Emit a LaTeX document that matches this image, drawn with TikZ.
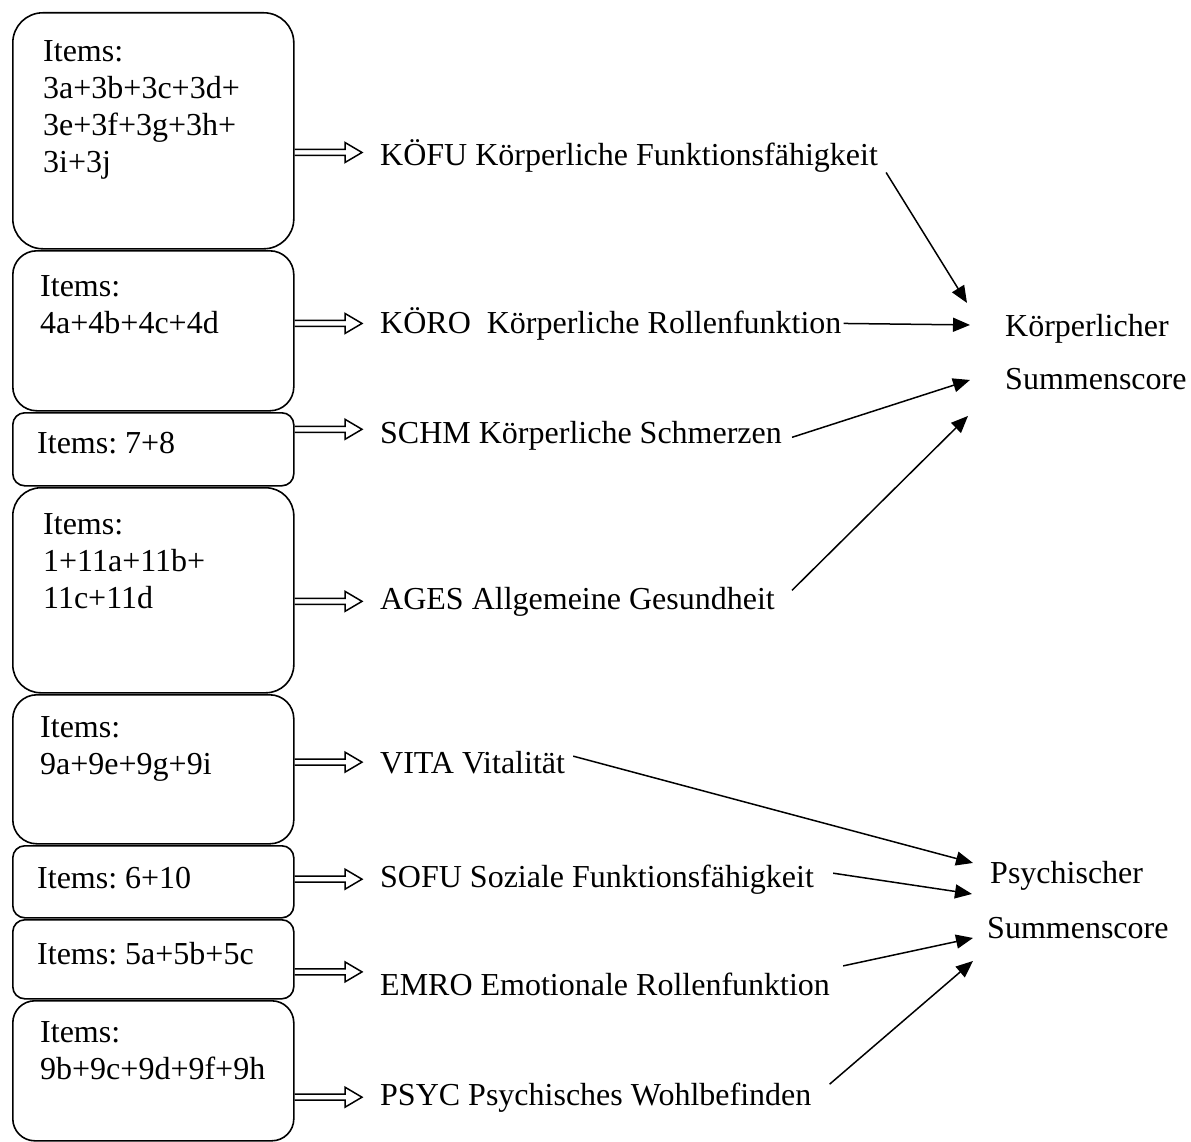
\documentclass[tikz,border=0pt]{standalone}
\usepackage{fontspec}
\setmainfont{Liberation Serif}
\usetikzlibrary{arrows.meta,calc}
\frenchspacing

\tikzset{
	itembox/.style={draw, line width=1.6pt, anchor=north west, minimum width=281pt, inner sep=0pt},
	itemtext/.style={anchor=north west, align=left, inner sep=0pt, font=\fontsize{32}{37}\selectfont},
	lbl/.style={anchor=base west, inner sep=0pt, font=\fontsize{32}{37}\selectfont},
	sumtext/.style={anchor=north west, align=left, inner sep=0pt, font=\fontsize{32}{37}\selectfont},
	sumarrow/.style={line width=1.5pt, -{Triangle[length=17pt,width=14pt]}},
	dbl/.style={line width=1.5pt, to path={let \p1=(\tikztostart), \p2=(\tikztotarget) in
		(\x1,\y1+3pt) -- (\x2-17pt,\y1+3pt) -- (\x2-17pt,\y1+10pt) -- (\x2,\y1)
		-- (\x2-17pt,\y1-10pt) -- (\x2-17pt,\y1-3pt) -- (\x1,\y1-3pt)}}
}

\begin{document}
\begin{tikzpicture}[x=1pt,y=-1pt]

	\useasboundingbox (0,0) rectangle (1191,1142);

	% item boxes
	\node[itembox, minimum height=236pt, rounded corners=30pt] (b1) at (12,12) {};
	\node[itembox, minimum height=160pt, rounded corners=24pt] (b2) at (12,250) {};
	\node[itembox, minimum height=73pt, rounded corners=12pt] (b3) at (12,412) {};
	\node[itembox, minimum height=205pt, rounded corners=28pt] (b4) at (12,487) {};
	\node[itembox, minimum height=149pt, rounded corners=24pt] (b5) at (12,694) {};
	\node[itembox, minimum height=72pt, rounded corners=12pt] (b6) at (12,845) {};
	\node[itembox, minimum height=79pt, rounded corners=12pt] (b7) at (12,919) {};
	\node[itembox, minimum height=140pt, rounded corners=22pt] (b8) at (12,1000) {};

	\node[itemtext] (t1) at (43,40) {Items:\\3a+3b+3c+3d+\\3e+3f+3g+3h+\\3i+3j};
	\node[itemtext] (t2) at (40,275) {Items:\\4a+4b+4c+4d};
	\node[itemtext] (t3) at (37,432) {Items: 7+8};
	\node[itemtext] (t4) at (43,513) {Items:\\1+11a+11b+\\11c+11d};
	\node[itemtext] (t5) at (40,716) {Items:\\9a+9e+9g+9i};
	\node[itemtext] (t6) at (37,867) {Items: 6+10};
	\node[itemtext] (t7) at (37,942) {Items: 5a+5b+5c};
	\node[itemtext] (t8) at (40,1021) {Items:\\9b+9c+9d+9f+9h};

	% scales
	\node[lbl] (k1) at (380,166) {KÖFU Körperliche Funktionsfähigkeit};
	\node[lbl] (k2) at (380,333) {KÖRO\ \ Körperliche Rollenfunktion};
	\node[lbl] (k3) at (380,443) {SCHM Körperliche Schmerzen};
	\node[lbl] (k4) at (380,609) {AGES Allgemeine Gesundheit};
	\node[lbl] (k5) at (380,773) {VITA Vitalität};
	\node[lbl] (k6) at (380,887) {SOFU Soziale Funktionsfähigkeit};
	\node[lbl] (k7) at (380,995) {EMRO Emotionale Rollenfunktion};
	\node[lbl] (k8) at (380,1105) {PSYC Psychisches Wohlbefinden};

	% sum scores
	\node[sumtext] (ks) at (1005,314) {Körperlicher\\[16pt]Summenscore};
	\node[sumtext] (ps) at (990,861) {Psychischer\\[18pt]\hspace*{-3pt}Summenscore};

	% items -> scales
	\draw[dbl] (b1.east |- k1.west) ++(0,-4) to ([xshift=-18pt,yshift=4pt]k1.west);
	\draw[dbl] (b2.east |- k2.west) to ([xshift=-18pt]k2.west);
	\draw[dbl] (b3.east |- k3.west) ++(0,-6) to ([xshift=-18pt,yshift=6pt]k3.west);
	\draw[dbl] (b4.east |- k4.west) to ([xshift=-18pt]k4.west);
	\draw[dbl] (b5.east |- k5.west) to ([xshift=-18pt]k5.west);
	\draw[dbl] (b6.east |- k6.west) to ([xshift=-18pt]k6.west);
	\draw[dbl] (b7.east |- k7.west) ++(0,-12) to ([xshift=-18pt,yshift=12pt]k7.west);
	\draw[dbl] (b8.east |- k8.west) to ([xshift=-18pt]k8.west);

	% scales -> sum scores
	\draw[sumarrow] ($(k1.east)+(8,16)$) -- ($(ks.west)+(-38,-49)$);
	\draw[sumarrow] ($(k2.east)+(2,0)$) -- ($(ks.west)+(-35,-27)$);
	\draw[sumarrow] ($(k3.east)+(10,2)$) -- ($(ks.west)+(-35,28)$);
	\draw[sumarrow] ($(k4.east)+(17,-11)$) -- ($(ks.west)+(-37,64)$);
	\draw[sumarrow] ($(k5.east)+(8,-6)$) -- ($(ps.west)+(-17,-37)$);
	\draw[sumarrow] ($(k6.east)+(19,-6)$) -- ($(ps.west)+(-18,-6)$);
	\draw[sumarrow] ($(k7.east)+(13,-18)$) -- ($(ps.west)+(-17,38)$);
	\draw[sumarrow] ($(k8.east)+(18,-13)$) -- ($(ps.west)+(-17,61)$);

\end{tikzpicture}
\end{document}
